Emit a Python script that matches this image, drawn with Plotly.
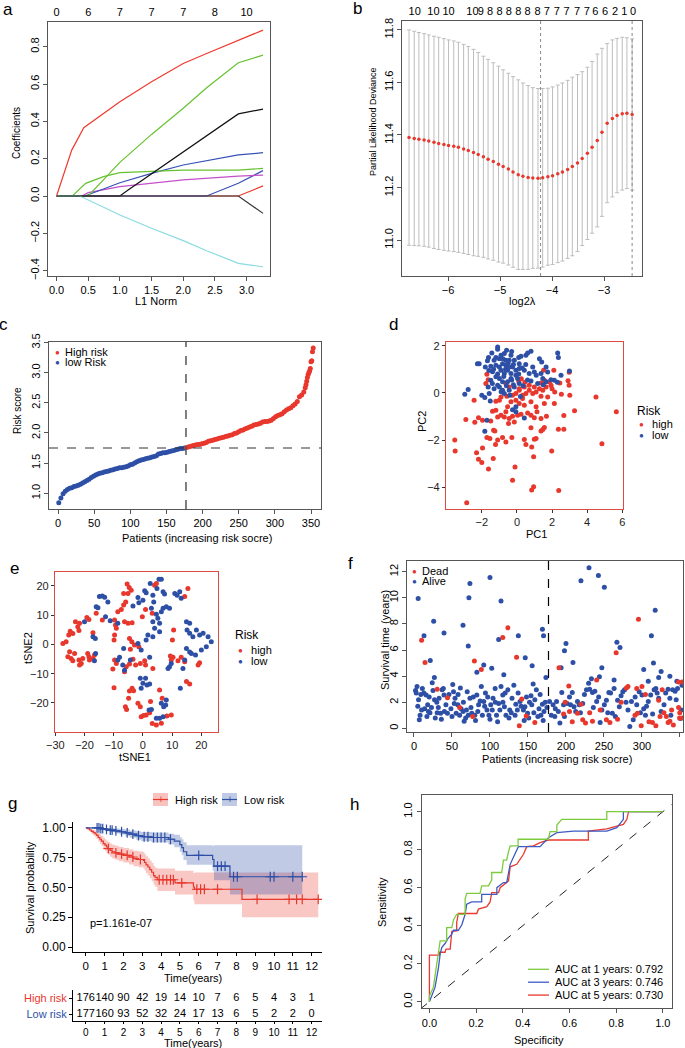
import plotly.graph_objects as go

W, H = 685, 1048
RED = '#E8372C'
BLUE = '#2D4FA6'
FONT = 'Liberation Sans, Arial, Helvetica, sans-serif'

# ---------------- a: LASSO coefficient paths ----------------
a_red1_x = [0, 0.24, 0.43, 1.0, 1.5, 2.0, 2.37, 2.87, 3.26]
a_red1_y = [0, 0.246, 0.366, 0.505, 0.612, 0.71, 0.764, 0.832, 0.889]
a_green1_x = [0, 0.5, 1.0, 1.5, 2.0, 2.37, 2.87, 3.26]
a_green1_y = [0, 0, 0.18, 0.33, 0.47, 0.58, 0.714, 0.755]
a_green2_x = [0, 0.25, 0.46, 0.74, 1.0, 1.5, 2.0, 2.87, 3.26]
a_green2_y = [0, 0, 0.068, 0.104, 0.125, 0.134, 0.139, 0.139, 0.148]
a_black1_x = [0, 1.0, 1.13, 2.0, 2.87, 3.26]
a_black1_y = [0, 0, 0.032, 0.235, 0.44, 0.466]
a_blue1_x = [0, 0.45, 1.0, 1.5, 2.0, 2.37, 2.87, 3.26]
a_blue1_y = [0, 0, 0.071, 0.121, 0.166, 0.188, 0.22, 0.232]
a_magenta_x = [0, 0.4, 0.5, 1.0, 2.0, 2.87, 3.26]
a_magenta_y = [0, 0, 0.018, 0.05, 0.086, 0.107, 0.112]
a_blue2_x = [0, 2.37, 2.87, 3.26]
a_blue2_y = [0, 0, 0.068, 0.136]
a_red2_x = [0, 2.87, 3.26]
a_red2_y = [0, 0, 0.054]
a_cyan_x = [0, 0.37, 1.0, 1.5, 2.0, 2.37, 2.87, 3.26]
a_cyan_y = [0, 0, -0.102, -0.173, -0.239, -0.293, -0.361, -0.379]
a_black2_x = [0, 2.87, 3.26]
a_black2_y = [0, 0, -0.093]
a_norm_ticks = [0, 0.5, 1.0, 1.5, 2.0, 2.5, 3.0]
a_df_labels = ['0', '6', '7', '7', '7', '8', '10']

# ---------------- b: cross-validation curve ----------------
b_log_lambda = [-6.75, -6.65, -6.56, -6.46, -6.37, -6.27, -6.18, -6.08, -5.99, -5.89,
                -5.80, -5.70, -5.61, -5.51, -5.42, -5.32, -5.23, -5.13, -5.03, -4.94,
                -4.84, -4.75, -4.65, -4.56, -4.46, -4.37, -4.27, -4.18, -4.08, -3.99,
                -3.89, -3.80, -3.70, -3.61, -3.51, -3.42, -3.32, -3.23, -3.13, -3.04,
                -2.94, -2.84, -2.75, -2.65, -2.56, -2.46]
b_cvm = [11.390, 11.387, 11.384, 11.381, 11.377, 11.372, 11.368, 11.364, 11.360, 11.357,
         11.353, 11.347, 11.341, 11.333, 11.326, 11.317, 11.308, 11.299, 11.289, 11.280,
         11.270, 11.259, 11.249, 11.243, 11.238, 11.236, 11.235, 11.237, 11.241, 11.245,
         11.252, 11.259, 11.269, 11.280, 11.293, 11.310, 11.330, 11.353, 11.379, 11.410,
         11.445, 11.463, 11.474, 11.481, 11.483, 11.478]
b_cvsd = [0.410, 0.408, 0.406, 0.405, 0.404, 0.404, 0.404, 0.403, 0.402, 0.401,
          0.400, 0.398, 0.396, 0.393, 0.388, 0.383, 0.380, 0.376, 0.373, 0.368,
          0.365, 0.363, 0.361, 0.355, 0.350, 0.344, 0.342, 0.340, 0.337, 0.338,
          0.338, 0.339, 0.339, 0.340, 0.337, 0.331, 0.328, 0.327, 0.329, 0.320,
          0.303, 0.299, 0.294, 0.291, 0.287, 0.288]
b_lambda_min = -4.22
b_lambda_1se = -2.46
b_top_ticks = [-6.64, -6.28, -5.99, -5.53, -5.37, -5.19, -5.01, -4.83, -4.65, -4.47, -4.28,
               -4.10, -3.91, -3.72, -3.52, -3.33, -3.17, -2.98, -2.79, -2.61, -2.44]
b_top_labels = ['10', '10', '10', '10', '9', '8', '8', '8', '8', '8', '8',
                '7', '7', '7', '7', '7', '6', '6', '2', '1', '0']

# ---------------- c: risk score distribution ----------------
c_patient = list(range(1, 340, 3)) + [340, 342, 343, 344, 345, 346, 347, 348, 349, 350, 351, 352, 353]
c_score = [0.84, 0.92, 0.99, 1.03, 1.06, 1.08, 1.09, 1.11, 1.12, 1.13,
           1.15, 1.17, 1.19, 1.21, 1.23, 1.26, 1.28, 1.30, 1.32, 1.33,
           1.34, 1.35, 1.36, 1.37, 1.38, 1.39, 1.40, 1.41, 1.42, 1.42,
           1.43, 1.44, 1.45, 1.47, 1.48, 1.50, 1.52, 1.54, 1.55, 1.56,
           1.57, 1.58, 1.59, 1.60, 1.61, 1.62, 1.65, 1.66, 1.67, 1.67,
           1.68, 1.69, 1.70, 1.71, 1.72, 1.73, 1.74, 1.74, 1.75, 1.76,
           1.77, 1.78, 1.79, 1.80, 1.81, 1.81, 1.82, 1.83, 1.84, 1.86,
           1.87, 1.88, 1.89, 1.90, 1.91, 1.92, 1.93, 1.94, 1.95, 1.96,
           1.97, 1.99, 2.00, 2.02, 2.04, 2.05, 2.07, 2.08, 2.10, 2.11,
           2.13, 2.14, 2.15, 2.16, 2.18, 2.19, 2.19, 2.20, 2.21, 2.24,
           2.27, 2.29, 2.30, 2.32, 2.35, 2.38, 2.40, 2.42, 2.45, 2.48,
           2.52, 2.60, 2.63,
           2.68, 2.75, 2.80, 2.86, 2.92, 2.97, 3.00, 3.03, 3.07, 3.18, 3.20, 3.35, 3.41]
c_cut_patient = 177
c_cut_score = 1.75

# ---------------- d: PCA ----------------
d_high_pc1 = [-1.71, -1.64, -1.77, -2.44, -2.91, -2.40, -2.19, -1.96, -1.49, -1.33, -1.26, -1.71, -1.54, -1.10,
              -0.82, -0.63, -0.29, -1.22, -3.54, -3.52, -2.30, -1.96, -2.19, -2.00, -1.35, -1.62, -0.11, -0.25,
              0.84, 0.95, 2.38, -2.86, 0.42, 0.51, 0.84, 0.99, 1.09, 0.95, 1.98, 0.80, 1.37, 1.47, 1.56, 2.36,
              2.67, 1.68, 1.56, 2.13, 2.67, 3.28, 4.50, 5.66, 4.84, 3.01, 2.53, 2.15, 2.44, 2.91, 2.97, 2.98,
              -0.25, -0.06, 0.13, 0.32, 0.51, 0.70, 0.90, 0.99, 1.28, 1.47, 1.66, 1.85, 1.94, 1.56, 1.37, 1.09,
              0.80, 1.09, 0.42, -0.34, -0.53, -0.63, -0.91, -1.10, -1.20, -1.39, -1.00, -1.20, -0.72, -0.44,
              -0.25, 0.04, 0.23, 0.80, 0.99, 0.61, 1.37, 1.14, -0.15, -0.48, -0.06, 0.13, 0.42, 0.70, 1.37,
              1.75, 0.32, 0.13, -0.44, -0.57, -0.91, -0.63, 0.10, 0.45, 0.25, 1.52, 2.10, 2.00]
d_high_pc2 = [0.79, 0.56, 0.40, -0.31, -1.13, -1.24, -1.05, -1.16, -1.19, -1.58, -1.61, -1.89, -1.93, -2.00,
              -1.89, -2.08, -1.89, -2.19, -2.00, -2.46, -2.54, -2.33, -2.81, -2.95, -2.78, -3.23, -3.14, -3.70,
              -4.12, -3.98, -4.14, -4.65, -1.98, -2.19, -2.29, -1.96, -1.93, -2.71, -2.46, -1.48, -1.61, -1.55,
              -1.47, -1.54, -1.54, -0.99, -0.45, -0.45, -0.96, -0.76, -0.17, -0.80, -2.15, -0.10, -0.06, 0.04,
              0.42, 0.51, 0.32, 0.88, -0.10, -0.31, -0.45, -0.24, -0.03, 0.11, -0.03, 0.25, 0.18, 0.11, 0.25,
              0.47, 0.32, 0.54, 0.42, 0.04, -0.38, -0.59, -0.52, -0.38, -0.59, -0.80, -0.95, -1.02, -0.73,
              -0.78, -0.31, -0.35, -1.02, -1.09, -0.99, -0.95, -0.90, -0.95, -1.05, -0.85, -1.09, -0.80, -1.23,
              -1.30, -0.03, 0.11, 0.25, 0.32, -0.14, -0.17, -0.10, 0.18, 0.25, -0.14, -0.17, 0.40, 0.50, 0.45,
              0.60, 0.96, 0.96, 0.18]
d_low_pc1 = [-1.10, -1.43, -0.59, -0.34, -1.62, -1.68, -2.15, -2.25, -1.30, -1.00,
             -0.82, -0.63, -0.44, -0.15, 0.13, 0.23, 0.51, 0.80, 0.61, 1.28,
             1.41, 1.66, 2.32, 2.36, 2.51, 2.99, 2.13, 1.66, 1.37, 1.47,
             1.18, 0.13, 0.42, 0.70, -0.06, -0.34, -0.53, -0.82, -1.00, -1.20,
             -1.39, -1.49, -1.64, -1.30, -1.10, -0.82, -0.44, -0.15, 0.13, -2.78,
             -2.97, -1.83, -1.52, -1.71, -1.83, -0.25, -0.06, 0.42, -0.91, -0.72,
             -0.53, -0.25, -0.06, -1.00, -1.20, -1.49, -1.33, -0.63, -0.44, -0.91,
             -0.72, -0.34, 0.04, 0.90, 0.99, 1.75, 1.94, -1.58, -0.72, -0.06,
             -1.20, -0.80, -0.50, -0.20, 0.30, 0.50, -1.60, -1.10, -0.75, -0.30,
             0.10, 0.60, -1.00, -0.60, -0.20, 0.35, 0.80, 1.10, 1.50, 2.30,
             -1.40, -0.90, -0.40, 0.20, -2.00, -1.10, -0.30, 0.10, -1.80, -0.65]
d_low_pc2 = [1.85, 1.69, 1.81, 1.60, 1.50, 1.36, 1.24, 1.24, 1.38, 1.45,
             1.24, 1.17, 1.10, 1.38, 1.24, 1.55, 1.60, 1.77, 1.69, 1.45,
             1.31, 1.10, 1.69, 1.50, 0.75, 0.93, 0.54, 0.47, 0.82, 0.61,
             0.40, 1.03, 0.96, 0.82, 0.75, 0.61, 0.47, 0.47, 0.61, 0.68,
             0.90, 0.54, 0.25, 0.18, 0.32, 0.11, 0.11, 0.25, 0.40, 0.14,
             -0.06, -0.20, -0.34, -1.16, -1.62, -0.71, -0.59, -1.06, 0.96, 0.82,
             0.96, 1.10, 0.96, 1.10, 1.17, 1.13, 1.00, 1.38, 1.38, 1.60,
             1.67, 0.82, 0.61, 1.10, 0.89, 0.89, 0.56, -0.03, -0.03, -0.80,
             1.50, 1.45, 1.25, 1.20, 1.05, 1.20, 0.95, 0.80, 0.70, 0.55,
             0.80, 0.55, 0.25, 0.30, 0.35, 0.30, 0.50, 0.75, 0.35, 0.45,
             0.40, 0.05, -0.10, -0.15, -0.10, 1.95, 1.75, 1.50, 1.10, 1.00]

# ---------------- e: t-SNE ----------------
e_high_x = [-27.4, -26.3, -25.4, -24.9, -24.0, -23.1, -22.3, -21.9, -21.7, -19.2,
            -18.5, -17.1, -25.1, -25.7, -24.6, -21.9, -21.1, -21.7, -20.6, -18.9,
            -18.5, -18.3, -16.6, -17.1, -23.4, -24.0, -16.0, -13.9, -9.7, -9.1,
            -9.7, -9.9, -9.4, -8.6, -7.4, -6.6, -5.9, -5.1, -6.6, -5.4,
            -4.7, -4.0, -6.3, -5.1, -3.7, -4.6, -3.8, -4.3, -2.9, -1.4,
            -0.9, -2.5, -4.6, -5.7, -6.3, -9.7, -10.3, -9.1, -9.9, -3.7,
            -4.6, -3.2, -4.9, -6.0, -5.6, -1.7, -0.9, -0.6, 0.2, 1.1,
            2.3, 3.2, 4.6, 6.3, 2.6, 5.7, 6.6, 8.2, 9.7, -0.2,
            0.9, 3.2, 4.0, 4.6, -3.4, 0.6, 0.9, 3.4, 9.4, 10.3,
            9.7, 10.5, 10.1, 12.0, 13.1, 14.3, 14.9, 16.0, 15.4, 14.3,
            18.9, 19.4]
e_high_y = [0.3, 0.9, 3.2, 4.5, 3.75, 7.7, 6.0, 4.7, 7.2, 9.2,
            8.5, 4.0, -2.5, -4.2, -4.8, -5.3, -6.5, -7.0, -4.8, -3.1,
            -4.2, -5.3, -3.6, -4.8, -3.1, -5.6, 10.6, 8.3, 8.3, 5.5,
            3.2, 1.5, 6.6, 11.1, 11.9, 13.4, 14.5, 17.4, 17.4, 20.6,
            19.4, 18.5, 7.7, 7.2, 7.4, 2.0, 0.9, -1.7, -0.2, -0.8,
            -6.5, -7.0, -6.7, -7.6, -9.3, -5.3, -8.4, -6.5, -14.8, -15.0,
            -15.9, -15.8, -18.4, -21.3, -22.2, -20.1, -21.3, -24.7, -24.3, -24.1,
            -23.3, -27.0, -27.5, -26.9, -19.5, -15.6, -18.4, -24.4, -24.1, 9.4,
            11.9, 10.6, 20.2, 20.8, -5.1, -5.6, -7.0, -8.2, -4.0, -4.4,
            -5.3, 4.9, 1.5, -5.6, -4.4, -5.9, -12.7, -13.5, 19.1, 16.3,
            -7.0, -6.3]
e_low_x = [-20.0, -17.1, -16.3, -16.2, -16.6, -16.0, -15.4, -14.9, -13.9, -13.1,
           -12.0, -12.8, -11.2, -8.6, -6.6, -8.0, -8.6, -6.9, -6.3, -4.3,
           -0.6, 2.3, -0.9, 0.9, 0.0, -0.6, 1.4, 2.3, 2.1, 2.9,
           4.6, 5.7, 6.9, 6.3, 7.1, 7.8, 8.0, 12.8, 0.0, -1.4,
           -1.7, -3.4, 0.6, 1.1, 2.5, 3.4, 4.8, 5.5, 6.3, 6.9,
           7.4, 3.7, 2.9, 4.6, 5.1, 5.7, 6.3, 6.9, 8.0, 9.1,
           10.9, 11.7, 12.6, 13.1, 3.4, 4.0, 5.7, 3.4, 1.7, 1.1,
           -1.7, 14.9, 16.0, 15.1, 16.0, 17.1, 18.3, 19.4, 20.6, 22.3,
           23.4, 21.7, 20.0, 18.0, 16.6, 14.9, 14.3, 13.7, 16.0, 9.1,
           8.6, 9.7]
e_low_y = [7.7, 2.6, 2.0, -3.1, -5.6, 12.8, 12.5, 16.3, 16.5, 16.1,
           14.5, 9.4, 8.1, 7.2, -1.4, -4.4, -5.3, -7.0, -8.8, -5.3,
           -1.9, -4.4, -11.6, -11.6, -13.3, -15.0, -13.9, -13.5, -22.4, -22.2,
           -25.2, -25.2, -24.7, -20.1, -21.3, -20.7, -19.0, -15.0, 15.1, 14.2,
           16.0, 13.1, 18.3, 17.6, 20.8, 16.8, 19.1, 22.2, 22.2, 18.0,
           17.2, 14.5, 12.3, 10.3, 8.9, 7.2, 11.1, 12.3, 12.8, 12.3,
           17.4, 16.8, 18.0, 15.7, 7.7, 5.5, 4.3, 2.6, 3.2, 1.5,
           0.3, 7.7, 7.2, 4.9, 3.8, 2.6, 4.9, 3.2, 3.8, 2.6,
           0.9, -0.8, -1.9, -3.6, -3.1, -1.4, -5.3, -8.2, -2.6, -7.6,
           -8.2, -6.5]

# ---------------- f: survival status ----------------
f_alive_x = [5.5, 13.2, 25.9, 39.5, 21.4, 26.8, 73.6, 72.3, 64.5, 71.4, 82.7, 91.8, 100, 114.5, 111.4,
             137.3, 102.3, 118.2, 146.4, 155.5, 169, 170.5, 156.8, 173.6,
             230.3, 219.7, 242.7, 250.5, 317.4, 312.4, 267, 271.1, 200, 198, 209.2, 193.6, 247.2, 302.3,
             315.1, 325.2, 308.3, 322, 336.7, 345.9, 352.7, 233.5, 244, 263.3,
             2, 4, 3, 5, 8, 7, 10, 11, 13, 16, 18, 19, 21, 24, 25, 27, 30, 30.5, 33, 35,
             37, 38.6, 39.5, 42, 44, 48.6, 51, 52, 54, 55.5, 57.7, 60, 62, 64.5, 66, 69, 71.4, 73.6, 76, 80,
             82.7, 85, 88.6, 91.8, 94, 96, 98.6, 101, 104, 106.8, 108.6, 111.4, 114.5, 116.8, 119, 121, 123.6,
             126, 128, 131.4, 134, 136, 139.5, 144, 146, 149.5, 152, 154, 157.7, 161, 164.5, 167, 169, 171,
             172.7, 6, 9, 14, 17, 20, 23, 28, 32, 36, 40, 46, 50, 53, 58, 61, 65, 68, 70, 75, 78, 81, 84,
             87, 90, 93, 97, 100, 103, 107, 110, 113, 117, 120, 125, 129, 133, 137, 141, 145, 148, 151, 155,
             159, 163, 166, 170, 175,
             178.4, 180.7, 183, 185.3, 187.6, 190, 192, 194.5, 196.8, 201.4, 204.6, 208.3, 210.6, 212.8,
             215.1, 217.4, 222, 224.3, 227, 229.8, 231.2, 234.9, 238, 240.4, 245, 247.2, 250.5, 253.2,
             256.4, 258.7, 261, 263.3, 267.9, 270.2, 272.5, 274.8, 277.1, 281.6, 284, 286.2, 288.5, 293.1,
             296.3, 300, 302.3, 304.6, 308.3, 311.5, 316, 318.3, 322, 325.2, 331.2, 334.4, 336.7, 340.4,
             343.6, 346.8, 350.5, 351.8, 186, 198, 206, 219, 236, 243, 255, 265, 279, 291, 298, 306, 314,
             320, 329, 338, 345]
f_alive_y = [9.95, 7.1, 8.2, 7.3, 5.2, 3.9, 11.1, 10.0, 7.9, 6.3, 4.3, 4.85, 11.55, 9.75, 6.8,
             7.1, 4.6, 4.1, 5.4, 4.8, 7.6, 7.1, 3.4, 3.9,
             12.3, 11.3, 11.7, 10.8, 9.05, 7.1, 6.6, 6.2, 6.5, 5.95, 5.05, 4.65, 4.65, 4.5,
             5.0, 4.35, 3.6, 3.9, 4.0, 3.6, 3.3, 3.8, 3.95, 3.7,
             2.9, 3.2, 2.7, 1.7, 1.0, 0.65, 1.4, 3.05, 2.7, 2.55, 1.8, 1.3, 1.2, 3.5, 2.9, 2.2, 2.0, 1.2, 2.3, 1.15,
             2.95, 3.05, 2.55, 1.8, 1.15, 1.5, 3.35, 2.8, 2.3, 1.15, 1.8, 1.0, 1.5, 1.3, 0.55, 1.4, 1.0, 2.3, 1.15, 1.0,
             2.55, 1.8, 3.2, 2.05, 2.7, 1.4, 1.0, 1.8, 2.3, 3.05, 1.0, 1.9, 3.2, 2.55, 1.65, 1.0, 2.95,
             1.4, 1.2, 3.3, 1.85, 1.4, 2.05, 1.4, 1.65, 1.15, 2.0, 2.5, 1.2, 2.95, 1.5, 1.0, 1.85, 1.3,
             2.0, 2.2, 2.6, 1.5, 0.9, 2.4, 1.6, 0.8, 1.6, 0.7, 1.3, 2.6, 0.9, 1.9, 2.6, 3.1, 2.0, 0.8, 2.8, 1.6, 2.4, 0.6, 1.3,
             2.1, 1.0, 1.7, 2.4, 0.7, 1.4, 2.0, 0.5, 1.4, 2.0, 2.7, 0.8, 2.3, 1.0, 2.7, 1.7, 0.6, 2.4, 0.8, 1.8,
             2.2, 0.9, 2.6, 0.6, 1.6,
             2.05, 1.0, 1.8, 0.9, 2.05, 1.3, 0.4, 2.75, 1.8, 1.9, 2.4, 2.75, 1.65, 1.3,
             2.05, 1.8, 1.9, 2.6, 2.95, 3.45, 3.0, 2.75, 2.85, 2.05, 0.45, 1.4, 1.8, 2.15,
             2.75, 2.7, 1.15, 3.05, 2.15, 1.65, 2.5, 2.8, 2.95, 1.4, 0.15, 2.05, 0.65, 1.8,
             2.8, 2.55, 1.5, 1.0, 2.05, 2.55, 2.95, 3.05, 2.3, 1.3, 2.7, 3.0, 2.3, 2.95,
             2.85, 3.05, 0.75, 1.4, 1.5, 0.9, 1.8, 1.2, 1.6, 2.4, 1.2, 0.9, 2.0, 2.4, 1.2, 1.7, 1.1,
             2.7, 1.8, 1.0, 2.2]
f_dead_x = [10, 14.5, 123.6, 116.8, 135, 79.5, 88.6, 30.5, 44.1, 60, 77.3, 138.6, 141.8, 147.7, 159,
            295.4, 266, 190.8, 240.4, 203.7, 281.6, 293.1, 300, 348.2, 352.7,
            199, 196.8, 204.6, 208.3, 215.1, 219.7, 222, 225.7, 231.2, 234.9, 245, 253.2, 257.8, 267.9,
            272.5, 279.4, 290.8, 294, 299, 304.6, 309.2, 313.8, 322, 323.8, 328.9, 332.1, 334.4, 336.7,
            339, 341.3, 348.2, 349.7, 349.5, 353, 318.3, 326.6]
f_dead_y = [6.75, 5.05, 7.7, 6.95, 5.45, 5.15, 4.5, 3.0, 2.35, 1.6, 0.9, 0.2, 2.25, 0.95, 0.45,
            8.35, 5.8, 4.65, 3.7, 3.25, 3.2, 3.05, 3.2, 3.55, 3.55,
            2.0, 1.1, 1.3, 0.5, 1.15, 1.85, 0.65, 0.4, 1.2, 0.55, 1.4, 0.65, 0.45, 0.7,
            2.0, 3.1, 1.0, 1.15, 0.2, 2.6, 0.5, 0.45, 2.15, 0.9, 1.2, 0.9, 0.45, 0.55,
            1.4, 0.25, 1.6, 1.2, 0.8, 0.8, 0.2, 2.95]

# ---------------- g: Kaplan-Meier ----------------
km_high_time = [0, 0.1, 0.2, 0.3, 0.4, 0.5, 0.58, 0.66, 0.75, 0.83, 0.93, 1.02, 1.1, 1.2, 1.29, 1.4,
                1.56, 1.75, 2.0, 2.3, 2.53, 2.8, 3.06, 3.12, 3.2, 3.3, 3.4, 3.5, 3.6, 3.68, 3.8, 4.74,
                5.72, 5.77, 8.3, 12.35]
km_high_surv = [1.0, 0.994, 0.983, 0.972, 0.96, 0.949, 0.938, 0.92, 0.905, 0.89, 0.868, 0.855, 0.84,
                0.826, 0.812, 0.80, 0.79, 0.78, 0.77, 0.756, 0.742, 0.735, 0.728, 0.71, 0.69, 0.672,
                0.65, 0.628, 0.60, 0.585, 0.565, 0.538, 0.504, 0.485, 0.40, 0.40]
km_high_upper = [1.0, 1.0, 0.997, 0.99, 0.983, 0.976, 0.969, 0.957, 0.945, 0.933, 0.917, 0.906, 0.893,
                 0.881, 0.869, 0.858, 0.85, 0.841, 0.832, 0.82, 0.808, 0.802, 0.796, 0.78, 0.762, 0.746,
                 0.726, 0.706, 0.68, 0.666, 0.66, 0.64, 0.62, 0.625, 0.625, 0.625]
km_high_lower = [1.0, 0.982, 0.966, 0.952, 0.937, 0.922, 0.908, 0.886, 0.867, 0.85, 0.823, 0.808, 0.79,
                 0.774, 0.758, 0.744, 0.732, 0.72, 0.71, 0.694, 0.678, 0.67, 0.662, 0.643, 0.62, 0.6,
                 0.577, 0.553, 0.522, 0.506, 0.47, 0.44, 0.39, 0.36, 0.25, 0.25]
km_high_censor = [1.2, 1.6, 1.9, 2.2, 2.5, 2.9, 3.9, 4.1, 4.3, 4.5, 4.65, 5.1, 5.9, 6.1, 6.3, 7.0,
                  9.1, 10.8, 11.2, 11.5, 12.35]
km_low_time = [0, 0.76, 1.0, 1.27, 1.55, 1.8, 2.1, 2.33, 2.68, 2.95, 3.5, 4.39, 4.7, 5.0, 5.1, 5.19,
               5.36, 6.74, 6.81, 7.66, 11.5]
km_low_surv = [1.0, 0.994, 0.988, 0.982, 0.975, 0.968, 0.958, 0.948, 0.936, 0.926, 0.92, 0.905, 0.89,
               0.86, 0.835, 0.80, 0.77, 0.735, 0.68, 0.59, 0.59]
km_low_upper = [1.0, 1.0, 1.0, 0.998, 0.995, 0.992, 0.986, 0.979, 0.972, 0.965, 0.961, 0.952, 0.942,
                0.922, 0.905, 0.88, 0.855, 0.85, 0.855, 0.855, 0.855]
km_low_lower = [1.0, 0.982, 0.973, 0.964, 0.954, 0.944, 0.93, 0.917, 0.9, 0.888, 0.878, 0.86, 0.838,
                0.8, 0.77, 0.73, 0.69, 0.64, 0.56, 0.44, 0.44]
km_low_censor = [0.6, 0.7, 0.8, 0.9, 1.1, 1.3, 1.4, 1.6, 1.9, 2.2, 2.5, 2.8, 3.1, 3.3, 3.6, 3.8, 4.0,
                 4.2, 4.5, 6.0, 7.0, 7.2, 7.4, 7.85, 8.05, 9.8, 10.0, 11.0, 11.5]
table_times = [0, 1, 2, 3, 4, 5, 6, 7, 8, 9, 10, 11, 12]
table_high = [176, 140, 90, 42, 19, 14, 10, 7, 6, 5, 4, 3, 1]
table_low = [177, 160, 93, 52, 32, 24, 17, 13, 6, 5, 2, 2, 0]

# ---------------- h: time-dependent ROC ----------------
roc1_fpr = [0, 0, 0.017, 0.03, 0.046, 0.074, 0.074, 0.096, 0.103, 0.117, 0.153, 0.153, 0.16, 0.217,
            0.224, 0.253, 0.267, 0.267, 0.31, 0.317, 0.331, 0.339, 0.346, 0.38, 0.38, 0.51, 0.517,
            0.546, 0.546, 0.567, 0.76, 0.76, 1.0]
roc1_tpr = [0, 0.03, 0.075, 0.18, 0.32, 0.32, 0.39, 0.39, 0.43, 0.46, 0.46, 0.54, 0.57, 0.57, 0.61,
            0.61, 0.64, 0.68, 0.68, 0.745, 0.745, 0.79, 0.82, 0.82, 0.855, 0.855, 0.895, 0.895, 0.93,
            0.96, 0.96, 1.0, 1.0]
roc3_fpr = [0, 0.007, 0.024, 0.039, 0.046, 0.053, 0.067, 0.081, 0.096, 0.103, 0.124, 0.139, 0.153,
            0.16, 0.181, 0.224, 0.224, 0.289, 0.289, 0.317, 0.331, 0.346, 0.36, 0.381, 0.474, 0.489,
            0.51, 0.546, 0.617, 0.76, 0.803, 0.831, 0.831, 1.0]
roc3_tpr = [0, 0.02, 0.075, 0.18, 0.25, 0.285, 0.306, 0.335, 0.355, 0.376, 0.376, 0.405, 0.46, 0.513,
            0.525, 0.525, 0.565, 0.565, 0.6, 0.627, 0.627, 0.723, 0.758, 0.816, 0.816, 0.837, 0.863,
            0.89, 0.898, 0.898, 0.916, 0.96, 1.0, 1.0]
roc5_fpr = [0, 0, 0.043, 0.043, 0.067, 0.071, 0.089, 0.096, 0.117, 0.117, 0.124, 0.203, 0.21, 0.246,
            0.26, 0.267, 0.296, 0.303, 0.339, 0.346, 0.374, 0.403, 0.417, 0.446, 0.474, 0.51, 0.681,
            0.681, 0.76, 0.831, 0.846, 0.853, 1.0]
roc5_tpr = [0, 0.245, 0.245, 0.26, 0.26, 0.277, 0.277, 0.37, 0.373, 0.417, 0.464, 0.464, 0.487, 0.5,
            0.525, 0.574, 0.574, 0.6, 0.636, 0.71, 0.723, 0.776, 0.816, 0.82, 0.837, 0.851, 0.851,
            0.898, 0.91, 0.933, 0.96, 1.0, 1.0]
roc_labels = ['AUC at 1 years: 0.792', 'AUC at 3 years: 0.746', 'AUC at 5 years: 0.730']
roc_colors = ['#7CCB3C', '#3D5BC4', '#E8392F']
h_diag = [-0.1, 1.1]


def surv_at(t, times, surv):
    v = surv[0]
    for tt, s in zip(times, surv):
        if tt <= t:
            v = s
    return v


fig = go.Figure()
ann = []
shapes = []


def text(s, x, y, size=11, angle=0, color='black', anchor='center'):
    ann.append(dict(text=s, x=x / W, y=1 - y / H, xref='paper', yref='paper', showarrow=False,
                    textangle=angle, xanchor=anchor, yanchor='middle',
                    font=dict(size=size, color=color)))


def xax(l, r, rng, anchor, **kw):
    d = dict(domain=[l / W, r / W], range=rng, anchor=anchor, showline=True, mirror=True,
             linecolor='#555', linewidth=1, ticks='outside', ticklen=4, tickcolor='#555',
             showgrid=False, zeroline=False, automargin=False, tickangle=0,
             tickfont=dict(size=11, color='black'))
    d.update(kw)
    return d


def yax(t, b, rng, anchor, **kw):
    d = dict(domain=[1 - b / H, 1 - t / H], range=rng, anchor=anchor, showline=True, mirror=True,
             linecolor='#555', linewidth=1, ticks='outside', ticklen=4, tickcolor='#555',
             showgrid=False, zeroline=False, automargin=False,
             tickfont=dict(size=11, color='black'))
    d.update(kw)
    return d


def top_axis(base, yref, rng, vals, labels):
    return dict(overlaying=base, side='top', anchor=yref, range=rng, tickvals=vals, ticktext=labels,
                ticks='', showline=False, showgrid=False, zeroline=False, automargin=False,
                tickangle=0, tickfont=dict(size=11, color='black'), ticklabelstandoff=3)


# ---- a
a_paths = [
    (a_red2_x, a_red2_y, '#EE3B2F'), (a_blue2_x, a_blue2_y, '#3652B5'),
    (a_magenta_x, a_magenta_y, '#C44FCB'), (a_blue1_x, a_blue1_y, '#3652B5'),
    (a_green2_x, a_green2_y, '#66C22E'), (a_green1_x, a_green1_y, '#66C22E'),
    (a_black1_x, a_black1_y, '#111111'), (a_red1_x, a_red1_y, '#EE3B2F'),
    (a_cyan_x, a_cyan_y, '#8ADBE0'),
]
for xs, ys, col in a_paths:
    fig.add_trace(go.Scatter(x=xs, y=ys, mode='lines', line=dict(color=col, width=1.2),
                             xaxis='x', yaxis='y'))
fig.add_trace(go.Scatter(x=a_black2_x, y=a_black2_y, mode='lines', line=dict(color='#333', width=1.2),
                         xaxis='x2', yaxis='y'))

# ---- b
fig.add_trace(go.Scatter(x=b_log_lambda, y=b_cvm, mode='markers',
                         marker=dict(color=RED, size=3.5),
                         error_y=dict(type='data', array=b_cvsd, visible=True, color='#BDBDBD',
                                      thickness=1, width=2),
                         xaxis='x4', yaxis='y3'))
for v in [b_lambda_min, b_lambda_1se]:
    shapes.append(dict(type='line', xref='x3', yref='y3 domain', x0=v, x1=v, y0=0, y1=1,
                       line=dict(color='#888', width=1, dash='dot')))

# ---- c
lo = [(p, s) for p, s in zip(c_patient, c_score) if p <= c_cut_patient]
hi = [(p, s) for p, s in zip(c_patient, c_score) if p > c_cut_patient]
fig.add_trace(go.Scatter(x=[p for p, s in lo], y=[s for p, s in lo], mode='markers',
                         marker=dict(color=BLUE, size=5), xaxis='x5', yaxis='y5'))
fig.add_trace(go.Scatter(x=[p for p, s in hi], y=[s for p, s in hi], mode='markers',
                         marker=dict(color=RED, size=5), xaxis='x5', yaxis='y5'))
shapes.append(dict(type='line', xref='x5', yref='y5 domain', x0=c_cut_patient, x1=c_cut_patient,
                   y0=0, y1=1, line=dict(color='#555', width=1.5, dash='dash')))
shapes.append(dict(type='line', xref='x5 domain', yref='y5', x0=0, x1=1, y0=c_cut_score,
                   y1=c_cut_score, line=dict(color='#333', width=1.2, dash='dash')))

# ---- d
fig.add_trace(go.Scatter(x=d_high_pc1, y=d_high_pc2, mode='markers', marker=dict(color=RED, size=5),
                         xaxis='x6', yaxis='y6'))
fig.add_trace(go.Scatter(x=d_low_pc1, y=d_low_pc2, mode='markers', marker=dict(color=BLUE, size=5),
                         xaxis='x6', yaxis='y6'))

# ---- e
fig.add_trace(go.Scatter(x=e_high_x, y=e_high_y, mode='markers', marker=dict(color=RED, size=5),
                         xaxis='x7', yaxis='y7'))
fig.add_trace(go.Scatter(x=e_low_x, y=e_low_y, mode='markers', marker=dict(color=BLUE, size=5),
                         xaxis='x7', yaxis='y7'))

# ---- f
fig.add_trace(go.Scatter(x=f_alive_x, y=f_alive_y, mode='markers', marker=dict(color=BLUE, size=5),
                         xaxis='x8', yaxis='y8'))
fig.add_trace(go.Scatter(x=f_dead_x, y=f_dead_y, mode='markers', marker=dict(color=RED, size=5),
                         xaxis='x8', yaxis='y8'))
shapes.append(dict(type='line', xref='x8', yref='y8 domain', x0=c_cut_patient, x1=c_cut_patient,
                   y0=0, y1=1, line=dict(color='black', width=1.2, dash='dash')))

# ---- g
for tm, up, lw, fc in [(km_high_time, km_high_upper, km_high_lower, 'rgba(232,55,44,0.28)'),
                       (km_low_time, km_low_upper, km_low_lower, 'rgba(45,79,166,0.30)')]:
    fig.add_trace(go.Scatter(x=tm, y=up, mode='lines', line=dict(width=0, shape='hv'),
                             xaxis='x9', yaxis='y9'))
    fig.add_trace(go.Scatter(x=tm, y=lw, mode='lines', line=dict(width=0, shape='hv'),
                             fill='tonexty', fillcolor=fc, xaxis='x9', yaxis='y9'))
for tm, sv, cens, col in [(km_high_time, km_high_surv, km_high_censor, RED),
                          (km_low_time, km_low_surv, km_low_censor, BLUE)]:
    fig.add_trace(go.Scatter(x=tm, y=sv, mode='lines', line=dict(color=col, width=1.2, shape='hv'),
                             xaxis='x9', yaxis='y9'))
    fig.add_trace(go.Scatter(x=cens, y=[surv_at(t, tm, sv) for t in cens], mode='markers',
                             marker=dict(symbol='cross-thin', size=7, line=dict(color=col, width=1.2)),
                             xaxis='x9', yaxis='y9'))

# risk table
for row, vals in [(2, table_high), (1, table_low)]:
    fig.add_trace(go.Scatter(x=table_times, y=[row] * len(table_times), mode='text',
                             text=[str(v) for v in vals], textfont=dict(size=11, color='black'),
                             xaxis='x10', yaxis='y10'))

# ---- h
fig.add_trace(go.Scatter(x=h_diag, y=h_diag, mode='lines', line=dict(color='#222', width=1, dash='dash'),
                         xaxis='x11', yaxis='y11'))
for fx, ty, col in [(roc5_fpr, roc5_tpr, roc_colors[2]), (roc3_fpr, roc3_tpr, roc_colors[1]),
                    (roc1_fpr, roc1_tpr, roc_colors[0])]:
    fig.add_trace(go.Scatter(x=fx, y=ty, mode='lines', line=dict(color=col, width=1.3),
                             xaxis='x11', yaxis='y11'))


# ---- legends drawn as text + small glyphs
def dot_item(x, y, col, label, size=11):
    text('●', x, y, size=8, color=col)
    text(label, x + 6, y, size=size, anchor='left')


dot_item(57, 352, RED, 'High risk')
dot_item(57, 362, BLUE, 'low Risk')
text('Risk', 635, 411, size=12, anchor='left')
dot_item(641, 424, RED, ' high')
dot_item(641, 435, BLUE, ' low')
text('Risk', 233, 635, size=12, anchor='left')
dot_item(240, 650, RED, ' high')
dot_item(240, 661, BLUE, ' low')
dot_item(414, 571, RED, 'Dead')
dot_item(414, 581, BLUE, 'Alive')

for x0, col, fc, lab in [(153, RED, 'rgba(232,55,44,0.3)', 'High risk'),
                         (222, BLUE, 'rgba(45,79,166,0.3)', 'Low risk')]:
    shapes.append(dict(type='rect', xref='paper', yref='paper', x0=x0 / W, x1=(x0 + 15) / W,
                       y0=1 - 806 / H, y1=1 - 793 / H, fillcolor=fc, line=dict(width=0)))
    shapes.append(dict(type='line', xref='paper', yref='paper', x0=x0 / W, x1=(x0 + 15) / W,
                       y0=1 - 799.5 / H, y1=1 - 799.5 / H, line=dict(color=col, width=1.2)))
    text('+', x0 + 7.5, 799.5, size=10, color=col)
    text(lab, x0 + 20, 799.5, size=11, anchor='left')

for i, (lab, col) in enumerate(zip(roc_labels, roc_colors)):
    yy = 969.3 + i * 12.9
    shapes.append(dict(type='line', xref='paper', yref='paper', x0=528 / W, x1=549 / W,
                       y0=1 - yy / H, y1=1 - yy / H, line=dict(color=col, width=1.3)))
    text(lab, 553, yy, size=11, anchor='left')

# ---- axis titles and panel letters
text('Coefficients', 17, 133, size=10, angle=-90)
text('L1 Norm', 156, 301)
text('Partial Likelihood Deviance', 373, 122, size=9, angle=-90)
text('log2λ', 522, 301)
text('Risk score', 17, 411, size=10, angle=-90)
text('Patients (increasing risk socre)', 197, 538)
text('PC2', 422, 422, angle=-90)
text('PC1', 536, 534)
text('tSNE2', 28, 648, angle=-90)
text('tSNE1', 135, 757)
text('Survival time (years)', 385, 640, angle=-90)
text('Patients (increasing risk socre)', 557, 759)
text('Survival probability', 30, 888, angle=-90)
text('Time(years)', 193, 978)
text('Time(years)', 193, 1043)
text('p=1.161e-07', 121, 923)
text('Sensitivity', 382, 902, angle=-90)
text('Specificity', 539, 1040)
for s, x, y in [('a', 8, 9), ('b', 357, 8), ('c', 4, 325), ('d', 393, 324), ('e', 14, 568),
                ('f', 350, 563), ('g', 12, 803), ('h', 354, 804)]:
    text(s, x, y, size=17)

gg = dict(linecolor='#DD4A40', linewidth=1.2, tickcolor='#333', ticklen=3,
          tickfont=dict(size=11, color='#222'))
km = dict(mirror=False, linecolor='black', tickcolor='black', tickfont=dict(size=12, color='black'))
km_x = dict(mirror=False, linecolor='black', tickcolor='black', ticklen=3,
            tickfont=dict(size=11.5, color='black'))
km_table = dict(mirror=False, linecolor='black', tickcolor='black', ticklen=2,
                tickfont=dict(size=10, color='black'))

fig.update_layout(
    template='none',
    width=W, height=H, margin=dict(l=0, r=0, t=0, b=0, autoexpand=False),
    paper_bgcolor='white', plot_bgcolor='white', showlegend=False, hovermode=False,
    font=dict(family=FONT, size=11, color='black'),
    xaxis=xax(48.3, 270, [-0.13, 3.37], 'y', tickvals=a_norm_ticks, tickformat='.1f'),
    yaxis=yax(21.7, 276, [-0.4286, 0.934], 'x', tickvals=[-0.4, -0.2, 0, 0.2, 0.4, 0.6, 0.8],
              tickformat='.1f', tickangle=-90),
    xaxis2=top_axis('x', 'y', [-0.13, 3.37], a_norm_ticks, a_df_labels),
    xaxis3=xax(402, 642, [-6.885, -2.27], 'y3', tickvals=[-6, -5, -4, -3]),
    yaxis3=yax(21, 276, [10.863, 11.834], 'x3', tickvals=[11.0, 11.2, 11.4, 11.6, 11.8],
               tickformat='.1f', tickangle=-90),
    xaxis4=top_axis('x3', 'y3', [-6.885, -2.27], b_top_ticks, b_top_labels),
    xaxis5=xax(49, 321, [-12.5, 363.8], 'y5', tickvals=[0, 50, 100, 150, 200, 250, 300, 350]),
    yaxis5=yax(342, 509, [0.737, 3.51], 'x5', tickvals=[1.0, 1.5, 2.0, 2.5, 3.0, 3.5],
               tickformat='.1f', tickangle=-90),
    xaxis6=xax(446, 623, [-4.04, 6.04], 'y6', tickvals=[-2, 0, 2, 4, 6], **gg),
    yaxis6=yax(342, 509, [-4.92, 2.157], 'x6', tickvals=[-4, -2, 0, 2], **gg),
    xaxis7=xax(55, 218, [-30.1, 25.7], 'y7', tickvals=[-30, -20, -10, 0, 10, 20], **gg),
    yaxis7=yax(572, 732, [-29.9, 24.7], 'x7', tickvals=[-20, -10, 0, 10, 20], **gg),
    xaxis8=xax(407, 683, [-9.2, 354], 'y8', tickvals=[0, 50, 100, 150, 200, 250, 300, 350]),
    yaxis8=yax(561, 732, [-0.28, 12.82], 'x8', tickvals=[0, 2, 4, 6, 8, 10, 12], tickangle=-90),
    xaxis9=xax(73, 322, [-0.68, 12.55], 'y9', tickvals=table_times, **km_x),
    yaxis9=yax(822, 952, [-0.042, 1.05], 'x9', tickvals=[0, 0.25, 0.5, 0.75, 1.0],
               tickformat='.2f', **km),
    xaxis10=xax(73, 322, [-0.68, 12.55], 'y10', tickvals=table_times, **km_table),
    yaxis10=yax(990, 1021, [0.5625, 2.5], 'x10', tickvals=[2, 1], ticklen=3,
                ticktext=['<span style="color:%s">High risk</span>' % RED,
                          '<span style="color:%s">Low risk</span>' % BLUE],
                mirror=False, linecolor='black', tickcolor='black',
                tickfont=dict(size=11, color='black')),
    xaxis11=xax(421.7, 671.7, [-0.033, 1.038], 'y11', tickvals=[0, 0.2, 0.4, 0.6, 0.8, 1.0],
                tickformat='.1f'),
    yaxis11=yax(795, 1008.3, [-0.035, 1.088], 'x11', tickvals=[0, 0.2, 0.4, 0.6, 0.8, 1.0],
                tickformat='.1f', tickangle=-90),
    annotations=ann, shapes=shapes,
)

# the page has a default 8px body margin; drop it so the figure sits at the window origin
fig.write_html("out.html", config={'displayModeBar': False},
               post_script="document.body.style.margin='0px';")
